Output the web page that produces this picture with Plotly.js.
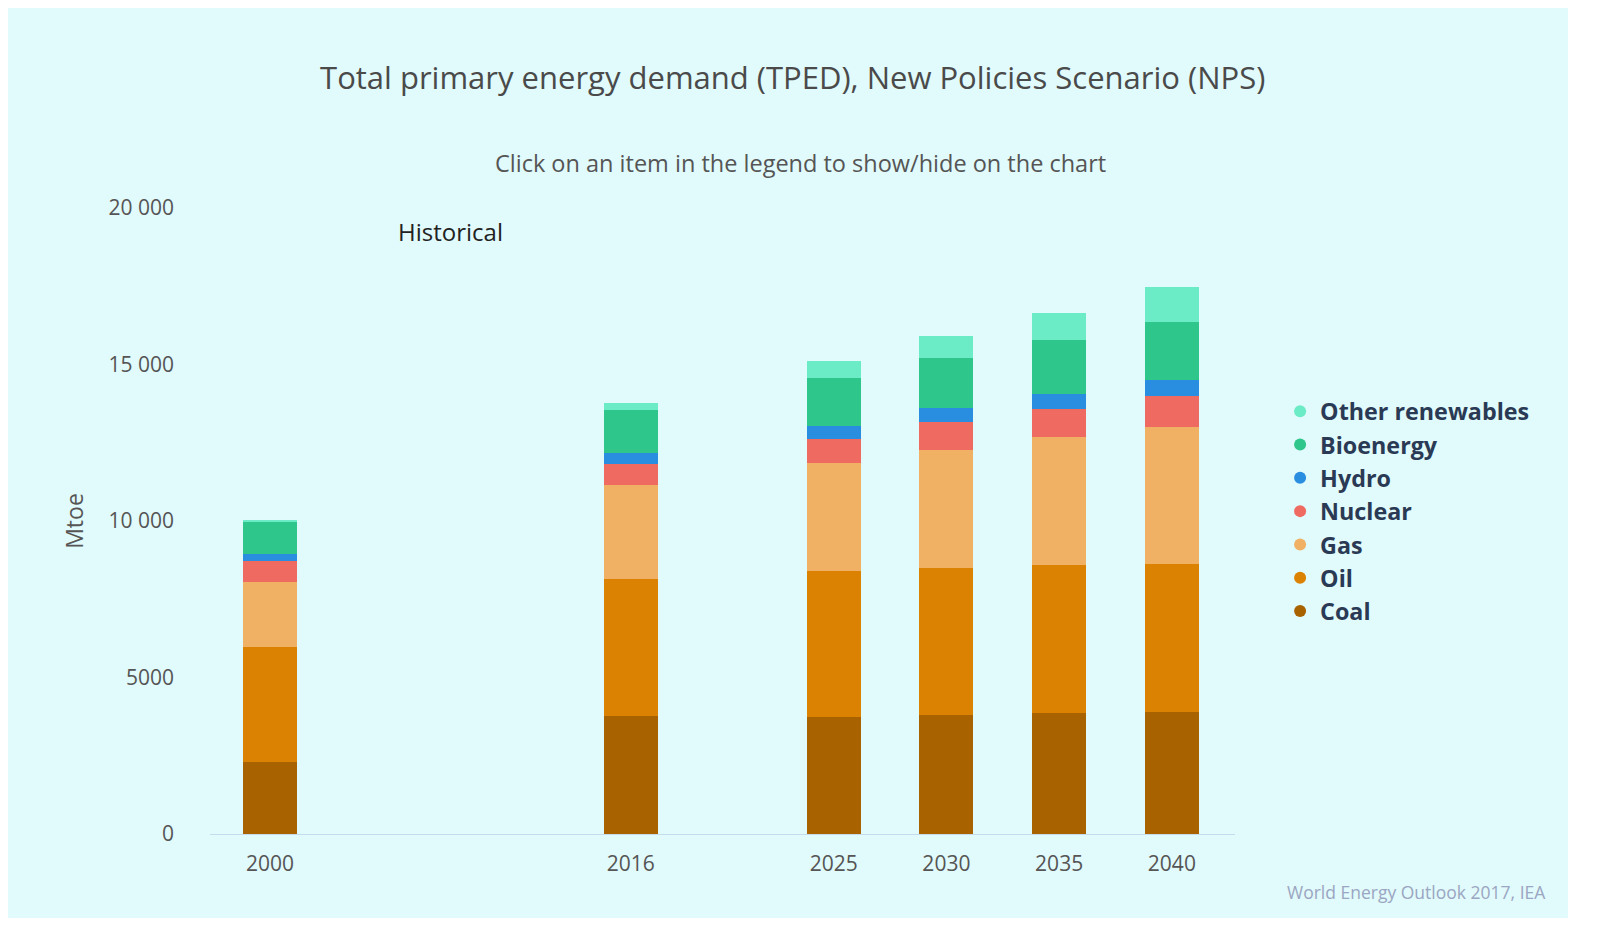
<!DOCTYPE html>
<html>
<head>
<meta charset="utf-8">
<script src="https://cdn.plot.ly/plotly-3.0.1.min.js"></script>
<style>
  html, body { margin: 0; padding: 0; background: #ffffff; }
  #chart { position: absolute; left: 8px; top: 8px; width: 1560px; height: 910px; }
</style>
</head>
<body>
<div id="chart"></div>
<script>
// Data (Mtoe)
const years = [2000, 2016, 2025, 2030, 2035, 2040];
const coal = [2316, 3755, 3754, 3788, 3870, 3900];
const oil = [3669, 4390, 4644, 4719, 4732, 4739];
const gas = [2071, 3007, 3452, 3770, 4083, 4356];
const nuclear = [675, 681, 780, 891, 900, 1003];
const hydro = [225, 350, 410, 442, 474, 503];
const bioenergy = [1023, 1354, 1520, 1606, 1720, 1850];
const otherRenewables = [60, 225, 544, 680, 860, 1120];
const yTicks = [0, 5000, 10000, 15000, 20000];

const series = [
  {name: 'Coal', y: coal, color: '#a86200'},
  {name: 'Oil', y: oil, color: '#dc8203'},
  {name: 'Gas', y: gas, color: '#f0b165'},
  {name: 'Nuclear', y: nuclear, color: '#ef6a60'},
  {name: 'Hydro', y: hydro, color: '#2a8ee0'},
  {name: 'Bioenergy', y: bioenergy, color: '#2ec68b'},
  {name: 'Other renewables', y: otherRenewables, color: '#6cecc6'}
];

const traces = [];
series.forEach(s => {
  traces.push({
    type: 'bar', x: years, y: s.y, name: s.name, legendgroup: s.name,
    showlegend: false, width: 2.4,
    marker: {color: s.color, line: {width: 0}},
    hovertemplate: s.name + ': %{y}<extra></extra>'
  });
});
series.forEach(s => {
  traces.push({
    type: 'scatter', mode: 'markers', x: [null], y: [null], name: s.name,
    legendgroup: s.name, showlegend: true,
    marker: {color: s.color, size: 20, symbol: 'circle'}
  });
});

const layout = {
  width: 1560, height: 910,
  paper_bgcolor: '#e1fafb', plot_bgcolor: '#e1fafb',
  barmode: 'stack',
  separators: '. ',
  font: {family: '"Open Sans", sans-serif', color: '#444'},
  margin: {l: 202, r: 333, t: 200, b: 84},
  title: {
    text: 'Total primary energy demand (TPED), New Policies Scenario (NPS)',
    font: {size: 31, color: '#4a4a4a', family: '"Open Sans", sans-serif'},
    x: 0.503, xanchor: 'center', y: 0.923, yanchor: 'middle', yref: 'container'
  },
  xaxis: {
    range: [1997.34, 2042.8], tickvals: years, ticktext: years.map(String),
    showgrid: false, zeroline: false, showline: true, linecolor: '#c5dcef', linewidth: 1,
    ticks: '', tickfont: {size: 21, color: '#555'}, ticklabelstandoff: 11, fixedrange: true
  },
  yaxis: {
    range: [0, 20000], tickvals: yTicks, exponentformat: 'none',
    showgrid: false, zeroline: false,
    ticks: '', tickfont: {size: 21, color: '#555'}, ticklabelstandoff: 35,
    title: {text: 'Mtoe', font: {size: 23, color: '#555'}, standoff: 18},
    fixedrange: true
  },
  legend: {
    x: 1.044, xanchor: 'left', y: 0.515, yanchor: 'middle',
    traceorder: 'reversed', bgcolor: 'rgba(0,0,0,0)',
    font: {size: 23.3, color: '#2a3a55', family: '"Open Sans", sans-serif', weight: 700},
    itemsizing: 'constant', tracegroupgap: 0
  },
  annotations: [
    {
      text: 'Click on an item in the legend to show/hide on the chart',
      xref: 'paper', yref: 'paper', x: 0.576, y: 1.072, showarrow: false,
      xanchor: 'center', yanchor: 'middle', font: {size: 23.5, color: '#555'}
    },
    {
      text: 'Historical', xref: 'x', yref: 'y', x: 2008, y: 19250, showarrow: false,
      xanchor: 'center', yanchor: 'middle', font: {size: 24, color: '#222'}
    },
    {
      text: 'World Energy Outlook 2017, IEA', xref: 'paper', yref: 'paper',
      x: 1.305, y: -0.093, showarrow: false, xanchor: 'right', yanchor: 'middle',
      font: {size: 17.5, color: '#9aa6c2'}
    }
  ],
  showlegend: true
};

Plotly.newPlot('chart', traces, layout, {displayModeBar: false, responsive: false});
</script>
</body>
</html>
